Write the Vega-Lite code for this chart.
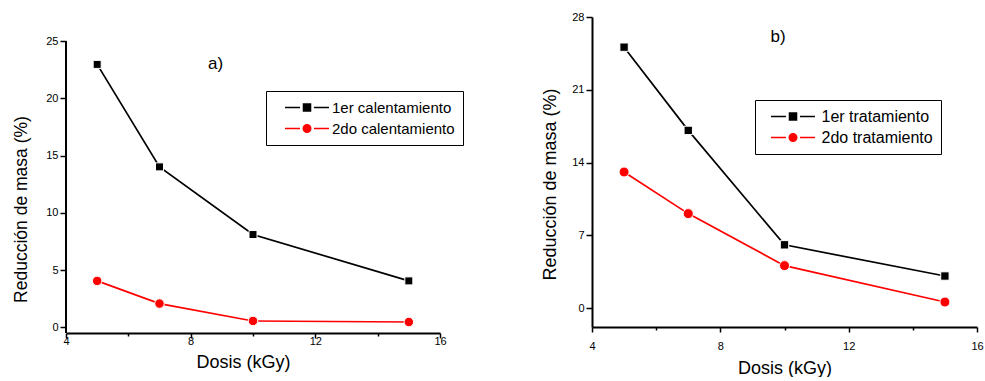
{
  "$schema": "https://vega.github.io/schema/vega-lite/v6.json",
  "padding": {"left": 12, "top": 11, "right": 0, "bottom": 0},
  "background": "white",
  "spacing": 77,
  "config": {
    "view": {"stroke": null},
    "font": "Liberation Sans",
    "axis": {"grid": false, "domainColor": "#000", "domainWidth": 2, "tickColor": "#000", "tickWidth": 1.5, "labelFont": "Liberation Sans", "labelFontSize": 11, "labelColor": "#000", "titleFont": "Liberation Sans", "titleFontWeight": "normal", "titleColor": "#000", "labelFlush": false, "labelOverlap": false},
    "legend": {"strokeColor": "#000", "fillColor": "#fff", "padding": 8, "symbolOffset": 24.5, "labelOffset": 16.5, "labelFont": "Liberation Sans", "labelColor": "#000", "symbolSize": 225, "symbolStrokeWidth": 1.5, "rowPadding": 4, "title": null}
  },
  "resolve": {"scale": {"x": "independent", "y": "independent", "color": "independent"}, "legend": {"color": "independent"}},
  "hconcat": [
    {
      "width": 374,
      "height": 316,
      "data": {"values": [
        {"dose": 5, "red": 22.96, "serie": "1er calentamiento"},
        {"dose": 7, "red": 14.01, "serie": "1er calentamiento"},
        {"dose": 10, "red": 8.1, "serie": "1er calentamiento"},
        {"dose": 15, "red": 4.05, "serie": "1er calentamiento"},
        {"dose": 5, "red": 4.05, "serie": "2do calentamiento"},
        {"dose": 7, "red": 2.07, "serie": "2do calentamiento"},
        {"dose": 10, "red": 0.55, "serie": "2do calentamiento"},
        {"dose": 15, "red": 0.46, "serie": "2do calentamiento"}
      ]},
      "layer": [
        {
          "mark": {"type": "line", "strokeWidth": 1.7},
          "encoding": {
            "x": {"field": "dose", "type": "quantitative", "scale": {"domain": [4, 16], "nice": false, "zero": false},
              "axis": {"values": [4, 6, 8, 10, 12, 14, 16], "labelExpr": "datum.value % 4 === 0 ? datum.label : ''", "tickSize": {"condition": {"test": "datum.value % 4 === 0", "value": 5}, "value": 3}, "labelPadding": -3, "title": "Dosis (kGy)", "titleFontSize": 18, "titlePadding": 7, "titleX": 177}},
            "y": {"field": "red", "type": "quantitative", "scale": {"domain": [-0.5, 27.1], "nice": false, "zero": false},
              "axis": {"domain": false, "values": [0, 2.5, 5, 7.5, 10, 12.5, 15, 17.5, 20, 22.5, 25], "labelExpr": "datum.value % 5 === 0 ? datum.label : ''", "tickSize": {"condition": {"test": "datum.value % 5 === 0", "value": 6}, "value": 3}, "labelPadding": 2, "title": "Reducción de masa (%)", "titleFontSize": 17.5, "titlePadding": 15.5, "titleY": 192}},
            "color": {"field": "serie", "type": "nominal", "scale": {"domain": ["1er calentamiento", "2do calentamiento"], "range": ["#000000", "#ff0000"]},
              "legend": {"orient": "none", "legendX": 200, "legendY": 74, "labelFontSize": 15,
                "encode": {"symbols": {"update": {
                  "shape": {"signal": "datum.value === '1er calentamiento' ? 'M-2.93,0H-0.93M-0.47,-0.47H0.47V0.47H-0.47ZM0.93,0H2.93' : 'M-2.93,0H-0.93M0.5,0A0.5,0.5,0,1,1,-0.5,0A0.5,0.5,0,1,1,0.5,0ZM0.93,0H2.93'"},
                  "fill": {"signal": "datum.value === '1er calentamiento' ? '#000000' : '#ff0000'"},
                  "stroke": {"signal": "datum.value === '1er calentamiento' ? '#000000' : '#ff0000'"},
                  "strokeWidth": {"value": 1.5},
                  "size": {"value": 225},
                  "opacity": {"value": 1}
                }}}}}
          }
        },
        {
          "data": {"values": [{"dose": 4, "lo": -0.5, "hi": 25}]},
          "mark": {"type": "rule", "strokeWidth": 2, "color": "#000000"},
          "encoding": {
            "x": {"field": "dose", "type": "quantitative"},
            "y": {"field": "lo", "type": "quantitative"},
            "y2": {"field": "hi"}
          }
        },
        {
          "transform": [{"filter": "datum.serie === '1er calentamiento'"}],
          "mark": {"type": "point", "shape": "square", "filled": true, "opacity": 1, "color": "#000000", "stroke": "#ffffff", "strokeWidth": 1, "size": 64},
          "encoding": {
            "x": {"field": "dose", "type": "quantitative"},
            "y": {"field": "red", "type": "quantitative"}
          }
        },
        {
          "transform": [{"filter": "datum.serie === '2do calentamiento'"}],
          "mark": {"type": "point", "shape": "circle", "filled": true, "opacity": 1, "color": "#ff0000", "stroke": "#ffffff", "strokeWidth": 1, "size": 90},
          "encoding": {
            "x": {"field": "dose", "type": "quantitative"},
            "y": {"field": "red", "type": "quantitative"}
          }
        },
        {
          "data": {"values": [{"dose": 8.8, "red": 23.0, "label": "a)"}]},
          "mark": {"type": "text", "fontSize": 17, "font": "Liberation Sans", "color": "#000"},
          "encoding": {
            "x": {"field": "dose", "type": "quantitative"},
            "y": {"field": "red", "type": "quantitative"},
            "text": {"field": "label"}
          }
        }
      ]
    },
    {
      "width": 385,
      "height": 310,
      "data": {"values": [
        {"dose": 5, "red": 25.1, "serie": "1er tratamiento"},
        {"dose": 7, "red": 17.1, "serie": "1er tratamiento"},
        {"dose": 10, "red": 6.1, "serie": "1er tratamiento"},
        {"dose": 15, "red": 3.1, "serie": "1er tratamiento"},
        {"dose": 5, "red": 13.1, "serie": "2do tratamiento"},
        {"dose": 7, "red": 9.1, "serie": "2do tratamiento"},
        {"dose": 10, "red": 4.1, "serie": "2do tratamiento"},
        {"dose": 15, "red": 0.6, "serie": "2do tratamiento"}
      ]},
      "layer": [
        {
          "mark": {"type": "line", "strokeWidth": 1.7},
          "encoding": {
            "x": {"field": "dose", "type": "quantitative", "scale": {"domain": [4, 16], "nice": false, "zero": false},
              "axis": {"values": [4, 6, 8, 10, 12, 14, 16], "labelExpr": "datum.value % 4 === 0 ? datum.label : ''", "tickSize": {"condition": {"test": "datum.value % 4 === 0", "value": 5}, "value": 3}, "labelPadding": 8, "title": "Dosis (kGy)", "titleFontSize": 18, "titlePadding": 8}},
            "y": {"field": "red", "type": "quantitative", "scale": {"domain": [-1.8, 28], "nice": false, "zero": false},
              "axis": {"values": [0, 3.5, 7, 10.5, 14, 17.5, 21, 24.5, 28], "labelExpr": "datum.value % 7 === 0 ? datum.label : ''", "tickSize": {"condition": {"test": "datum.value % 7 === 0", "value": 6}, "value": 3}, "labelPadding": 2, "title": "Reducción de masa (%)", "titleFontSize": 18, "titlePadding": 12, "titleY": 167}},
            "color": {"field": "serie", "type": "nominal", "scale": {"domain": ["1er tratamiento", "2do tratamiento"], "range": ["#000000", "#ff0000"]},
              "legend": {"orient": "none", "legendX": 163, "legendY": 83, "labelFontSize": 16, "labelOffset": 20, "symbolOffset": 21.5,
                "encode": {"symbols": {"update": {
                  "shape": {"signal": "datum.value === '1er tratamiento' ? 'M-2.93,0H-0.93M-0.47,-0.47H0.47V0.47H-0.47ZM0.93,0H2.93' : 'M-2.93,0H-0.93M0.5,0A0.5,0.5,0,1,1,-0.5,0A0.5,0.5,0,1,1,0.5,0ZM0.93,0H2.93'"},
                  "fill": {"signal": "datum.value === '1er tratamiento' ? '#000000' : '#ff0000'"},
                  "stroke": {"signal": "datum.value === '1er tratamiento' ? '#000000' : '#ff0000'"},
                  "strokeWidth": {"value": 1.5},
                  "size": {"value": 225},
                  "opacity": {"value": 1}
                }}}}}
          }
        },
        {
          "transform": [{"filter": "datum.serie === '1er tratamiento'"}],
          "mark": {"type": "point", "shape": "square", "filled": true, "opacity": 1, "color": "#000000", "stroke": "#ffffff", "strokeWidth": 1, "size": 70},
          "encoding": {
            "x": {"field": "dose", "type": "quantitative"},
            "y": {"field": "red", "type": "quantitative"}
          }
        },
        {
          "transform": [{"filter": "datum.serie === '2do tratamiento'"}],
          "mark": {"type": "point", "shape": "circle", "filled": true, "opacity": 1, "color": "#ff0000", "stroke": "#ffffff", "strokeWidth": 1, "size": 100},
          "encoding": {
            "x": {"field": "dose", "type": "quantitative"},
            "y": {"field": "red", "type": "quantitative"}
          }
        },
        {
          "data": {"values": [{"dose": 9.8, "red": 26.1, "label": "b)"}]},
          "mark": {"type": "text", "fontSize": 17, "font": "Liberation Sans", "color": "#000"},
          "encoding": {
            "x": {"field": "dose", "type": "quantitative"},
            "y": {"field": "red", "type": "quantitative"},
            "text": {"field": "label"}
          }
        }
      ]
    }
  ]
}
